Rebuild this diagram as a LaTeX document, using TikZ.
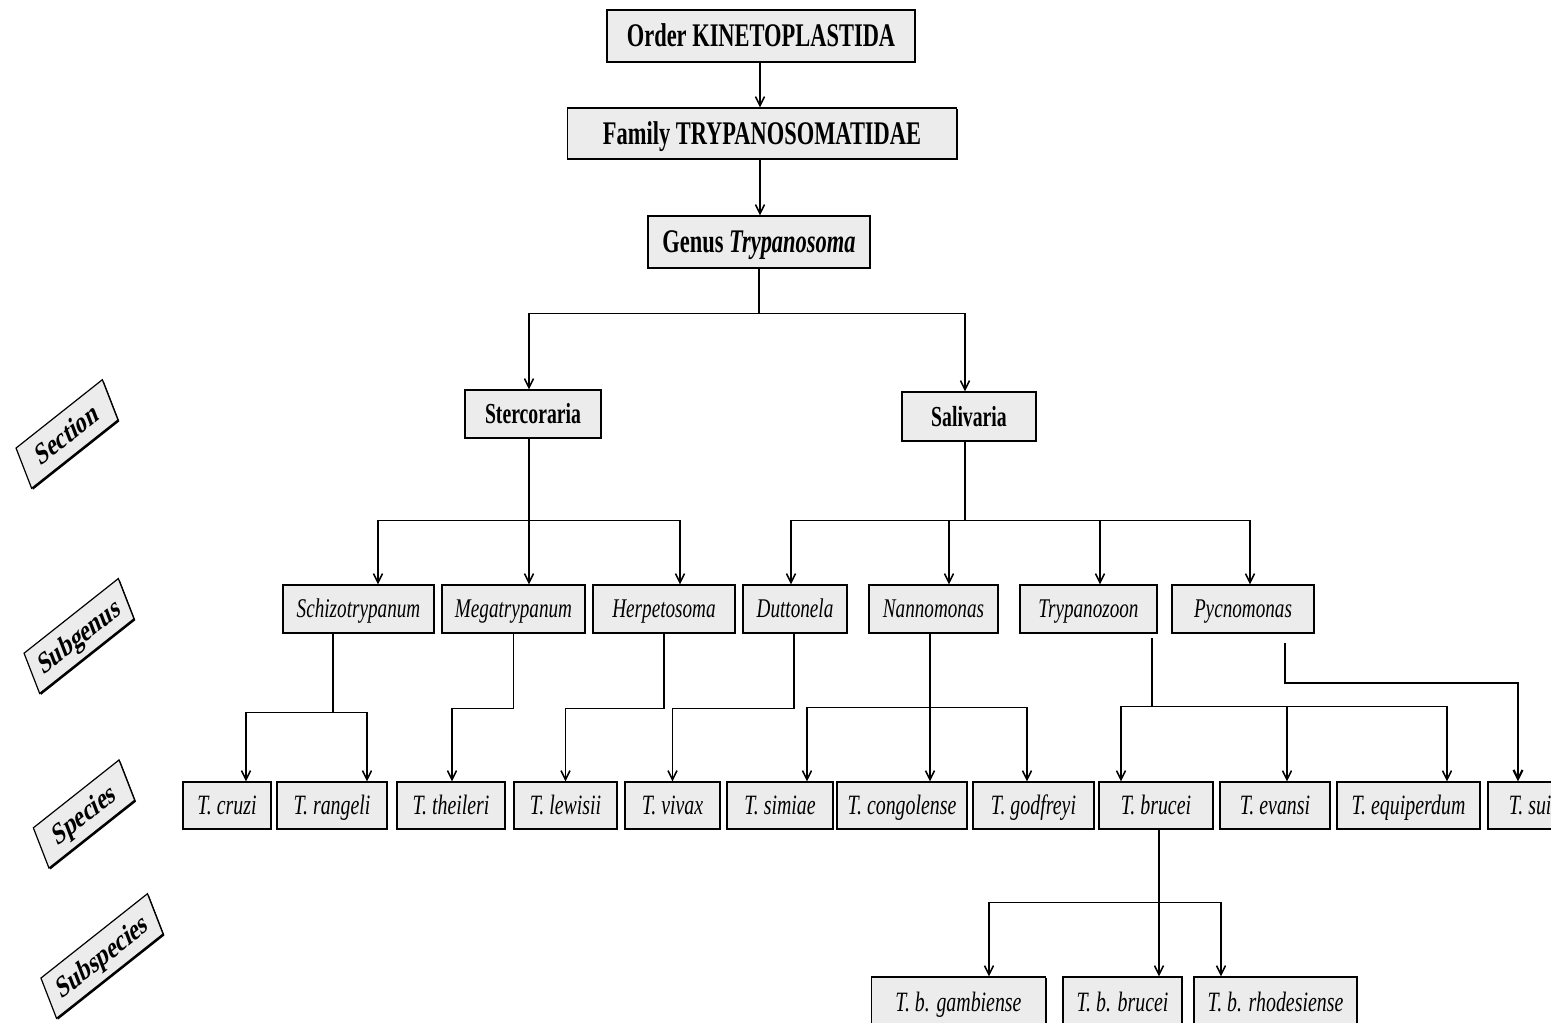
\documentclass[tikz,border=0pt]{standalone}
\usepackage{fontspec}
\setmainfont{Liberation Serif}
\newfontfamily\cfb[FakeStretch=0.68]{Liberation Serif}
\newfontfamily\cfi[FakeStretch=0.71]{Liberation Serif}
\usetikzlibrary{arrows.meta,shadows}
\definecolor{boxgray}{RGB}{236,236,236}
\begin{document}
\begin{tikzpicture}[x=1pt,y=-1pt,
  box/.style={draw=black, line width=1.2pt, fill=boxgray, inner sep=0pt,
    drop shadow={shadow xshift=1.4pt, shadow yshift=-1.4pt, opacity=1, fill=black}},
  topf/.style={font=\cfb\bfseries\fontsize{33}{36}\selectfont, text height=22pt, text depth=0.5pt},
  secf/.style={font=\cfb\bfseries\fontsize{29}{32}\selectfont, text height=19.5pt, text depth=0.5pt},
  subg/.style={box, minimum height=48pt, font=\cfi\itshape\fontsize{27}{30}\selectfont, text height=18pt, text depth=0.5pt},
  spec/.style={box, minimum height=47pt, font=\cfi\itshape\fontsize{28}{31}\selectfont, text height=18.5pt, text depth=0.5pt},
  tag/.style={box, font=\bfseries\fontsize{31}{34}\selectfont, minimum height=46pt, text height=20.5pt, text depth=0.5pt},
  ln/.style={line width=1.6pt},
  arr/.style={line width=1.6pt, -{Straight Barb[length=9pt,width=9pt]}}
]
\useasboundingbox (0,0) rectangle (1551,1023);

% top levels
\node[box, topf, minimum width=308pt, minimum height=52pt] (ord) at (761,36) {Order KINETOPLASTIDA};
\node[box, topf, minimum width=389pt, minimum height=51pt] (fam) at (762,133.5) {Family TRYPANOSOMATIDAE};
\node[box, topf, minimum width=222pt, minimum height=52pt] (gen) at (759,242) {Genus \textit{Trypanosoma}};

% sections
\node[box, secf, minimum width=136pt, minimum height=48pt] (ster) at (533,414) {Stercoraria};
\node[box, secf, minimum width=134pt, minimum height=49pt] (sal) at (969,416.5) {Salivaria};

% subgenera
\node[subg, minimum width=151pt] (schizo) at (358.5,609) {Schizotrypanum};
\node[subg, minimum width=143pt] (mega) at (513.5,609) {Megatrypanum};
\node[subg, minimum width=142pt] (herp) at (664,609) {Herpetosoma};
\node[subg, minimum width=104pt] (dutt) at (795,609) {Duttonela};
\node[subg, minimum width=129pt] (nann) at (933.5,609) {Nannomonas};
\node[subg, minimum width=137pt] (tryz) at (1088.5,609) {Trypanozoon};
\node[subg, minimum width=142pt] (pycn) at (1243,609) {Pycnomonas};

% species
\node[spec, minimum width=88pt] (cruzi) at (227,805.5) {T. cruzi};
\node[spec, minimum width=110pt] (rangeli) at (332,805.5) {T. rangeli};
\node[spec, minimum width=108pt] (theileri) at (451,805.5) {T. theileri};
\node[spec, minimum width=103pt] (lewisii) at (565.5,805.5) {T. lewisii};
\node[spec, minimum width=95pt] (vivax) at (672.5,805.5) {T. vivax};
\node[spec, minimum width=106pt] (simiae) at (780,805.5) {T. simiae};
\node[spec, minimum width=130pt] (congolense) at (902,805.5) {T. congolense};
\node[spec, minimum width=121pt] (godfreyi) at (1033.5,805.5) {T. godfreyi};
\node[spec, minimum width=114pt] (brucei) at (1156,805.5) {T. brucei};
\node[spec, minimum width=110pt] (evansi) at (1275,805.5) {T. evansi};
\node[spec, minimum width=143pt] (equiperdum) at (1408.5,805.5) {T. equiperdum};
\node[spec, minimum width=92pt] (suis) at (1534,805.5) {T. suis};

% subspecies
\node[spec, minimum width=174pt, minimum height=50pt] (gamb) at (958.5,1002) {T. b. gambiense};
\node[spec, minimum width=119pt, minimum height=50pt] (bbrucei) at (1122.5,1002) {T. b. brucei};
\node[spec, minimum width=163pt, minimum height=50pt] (rhod) at (1275.5,1002) {T. b. rhodesiense};

% rank labels
\begin{scope}[shift={(67,434)}, xscale=0.7, transform shape]
  \node[tag, rotate=29, minimum width=141pt] (lsec) {Section};
\end{scope}
\begin{scope}[shift={(79,636)}, xscale=0.7, transform shape]
  \node[tag, rotate=29, minimum width=154pt] (lsubg) {Subgenus};
\end{scope}
\begin{scope}[shift={(84,814)}, xscale=0.7, transform shape]
  \node[tag, rotate=29, minimum width=140pt] (lspec) {Species};
\end{scope}
\begin{scope}[shift={(102,956)}, xscale=0.7, transform shape]
  \node[tag, rotate=29, minimum width=174pt] (lsubsp) {Subspecies};
\end{scope}

% connectors: top
\draw[arr] ([xshift=-1pt]ord.south) -- ([xshift=-1pt]ord.south |- fam.north);
\draw[arr] ([xshift=-2pt]fam.south) -- ([xshift=-2pt]fam.south |- gen.north);
\draw[ln] (gen.south) -- ++(0,45) coordinate (gbus);
\draw[arr] (gbus) -| ([xshift=-4pt]ster.north);
\draw[arr] (gbus) -| ([xshift=-4pt]sal.north);

% sections to subgenera
\draw[ln] ([xshift=-4pt]ster.south) -- ++(0,82) coordinate (sbus);
\draw[arr] (sbus) -| ([xshift=19.5pt]schizo.north);
\draw[arr] (sbus) -- ([xshift=15.5pt]mega.north);
\draw[arr] (sbus) -| ([xshift=16pt]herp.north);
\draw[ln] ([xshift=-4pt]sal.south) -- ++(0,79) coordinate (vbus);
\draw[arr] (vbus) -| ([xshift=-4pt]dutt.north);
\draw[arr] (vbus) -| ([xshift=15.5pt]nann.north);
\draw[arr] (vbus) -| ([xshift=11.5pt]tryz.north);
\draw[arr] (vbus) -| ([xshift=7pt]pycn.north);

% subgenera to species
\draw[ln] ([xshift=-25.5pt]schizo.south) -- ++(0,79) coordinate (b1);
\draw[arr] (b1) -| ([xshift=19pt]cruzi.north);
\draw[arr] (b1) -| ([xshift=35pt]rangeli.north);
\draw[arr] (mega.south) -- ++(0,75) -| ([xshift=1pt]theileri.north);
\draw[arr] (herp.south) -- ++(0,75) -| (lewisii.north);
\draw[arr] ([xshift=-1pt]dutt.south) -- ++(0,75) -| (vivax.north);
\draw[arr] ([xshift=-3.5pt]nann.south) -- ([xshift=-3.5pt]nann.south |- congolense.north);
\path ([xshift=-3.5pt]nann.south) ++(0,74) coordinate (nbus);
\draw[arr] (nbus) -| ([xshift=27pt]simiae.north);
\draw[arr] (nbus) -| ([xshift=-6.5pt]godfreyi.north);
\draw[ln] ([xshift=63.5pt,yshift=-4pt]tryz.south) -- ++(0,69) coordinate (tbus);
\draw[arr] (tbus) -| ([xshift=-35pt]brucei.north);
\draw[arr] (tbus) -| ([xshift=12pt]evansi.north);
\draw[arr] (tbus) -| ([xshift=38.5pt]equiperdum.north);
\draw[arr, line width=2.2pt] ([xshift=42pt,yshift=-9pt]pycn.south) -- ++(0,40) -| ([xshift=-16pt]suis.north);

% species to subspecies
\draw[arr] ([xshift=3pt]brucei.south) -- ([xshift=3pt]brucei.south |- bbrucei.north);
\path ([xshift=3pt]brucei.south) ++(0,73) coordinate (bbus);
\draw[arr] (bbus) -| ([xshift=30.5pt]gamb.north);
\draw[arr] (bbus) -| ([xshift=-54.5pt]rhod.north);
\end{tikzpicture}
\end{document}
